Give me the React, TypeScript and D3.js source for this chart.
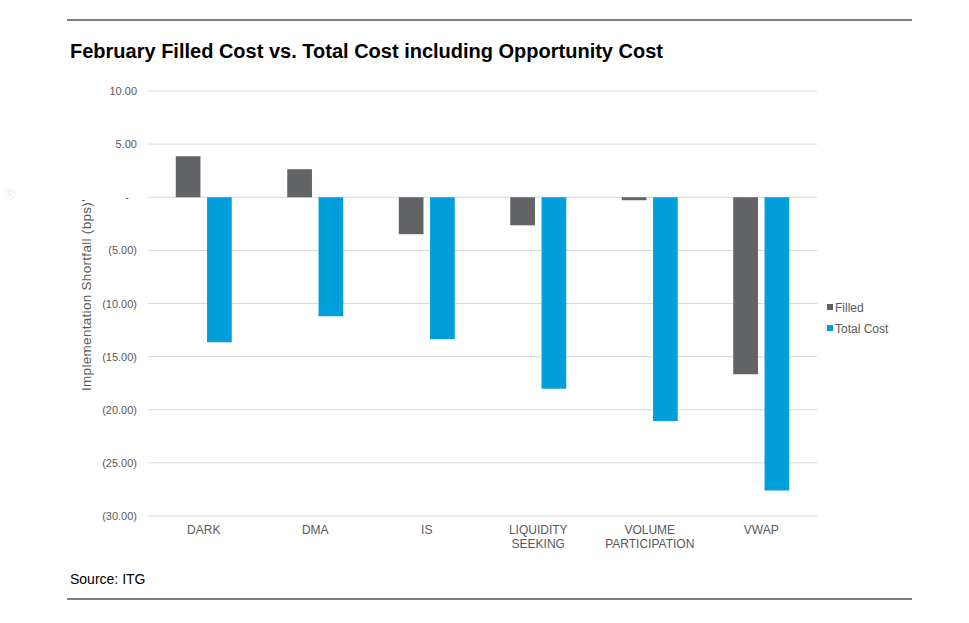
import React from "react";
import * as d3 from "d3";

const categories = ["DARK", "DMA", "IS", "LIQUIDITY\nSEEKING", "VOLUME\nPARTICIPATION", "VWAP"];
const filled = [3.86, 2.64, -3.48, -2.64, -0.28, -16.66];
const totalCost = [-13.65, -11.2, -13.36, -18.02, -21.06, -27.6];
const yTicks = [10, 5, 0, -5, -10, -15, -20, -25, -30];
const seriesNames = ["Filled", "Total Cost"];
const seriesColors = ["#616366", "#009fdb"];

const W = 969, H = 623;
const fontFam = "'Liberation Sans', Arial, sans-serif";

function fmt(v: number) {
  if (v === 0) return "-";
  const s = Math.abs(v).toFixed(2);
  return v < 0 ? `(${s})` : s;
}

export default function App() {
  const y = d3.scaleLinear().domain([-30, 10]).range([516, 91]);
  const x0 = d3.scaleBand().domain(categories).range([148, 817]);
  const x1 = d3.scaleBand().domain(seriesNames).range([-28, 28]).paddingInner(0.21);
  const series = [filled, totalCost];
  return (
    <svg width={W} height={H} style={{ position: "absolute", left: 0, top: 0 }}>
      <rect width={W} height={H} fill="#fff" />
      <line x1={67} x2={912} y1={20} y2={20} stroke="#000" strokeWidth={1} />
      <line x1={67} x2={912} y1={599} y2={599} stroke="#000" strokeWidth={1} />
      <text x={70} y={58} fontFamily={fontFam} fontWeight="bold" fontSize={20} fill="#000">
        February Filled Cost vs. Total Cost including Opportunity Cost
      </text>
      <text x={5} y={200} fontFamily={fontFam} fontSize={14} fill="#eeeeee">®</text>
      {yTicks.map((t) => (
        <g key={t}>
          <line x1={148} x2={817} y1={y(t)} y2={y(t)} stroke="#d9d9d9" strokeWidth={1} />
          <text x={t === 0 ? 129 : 137} y={y(t) + 4} textAnchor="end" fontFamily={fontFam} fontSize={11} fill="#595959">
            {fmt(t)}
          </text>
        </g>
      ))}
      <text
        transform={`translate(91,295) rotate(-90)`}
        textAnchor="middle"
        fontFamily={fontFam}
        fontSize={13.5}
        letterSpacing={0.3}
        fill="#595959"
      >
        Implementation Shortfall (bps)'
      </text>
      {series.map((vals, si) =>
        vals.map((v, i) => {
          const cx = (x0(categories[i]) as number) + x0.bandwidth() / 2;
          const bx = cx + (x1(seriesNames[si]) as number);
          return (
            <rect
              key={`${si}-${i}`}
              x={bx}
              width={x1.bandwidth()}
              y={Math.min(y(v), y(0))}
              height={Math.abs(y(v) - y(0))}
              fill={seriesColors[si]}
            />
          );
        })
      )}
      {categories.map((c) => {
        const cx = (x0(c) as number) + x0.bandwidth() / 2;
        return c.split("\n").map((line, li) => (
          <text key={c + li} x={cx} y={534 + li * 14} textAnchor="middle" fontFamily={fontFam} fontSize={12} fill="#595959">
            {line}
          </text>
        ));
      })}
      {seriesNames.map((n, i) => (
        <g key={n}>
          <rect x={827} y={304 + i * 21} width={6} height={6} fill={seriesColors[i]} />
          <text x={835} y={312 + i * 21} fontFamily={fontFam} fontSize={12} fill="#595959">
            {n}
          </text>
        </g>
      ))}
      <text x={70} y={584} fontFamily={fontFam} fontSize={14} fill="#000">
        Source: ITG
      </text>
    </svg>
  );
}
